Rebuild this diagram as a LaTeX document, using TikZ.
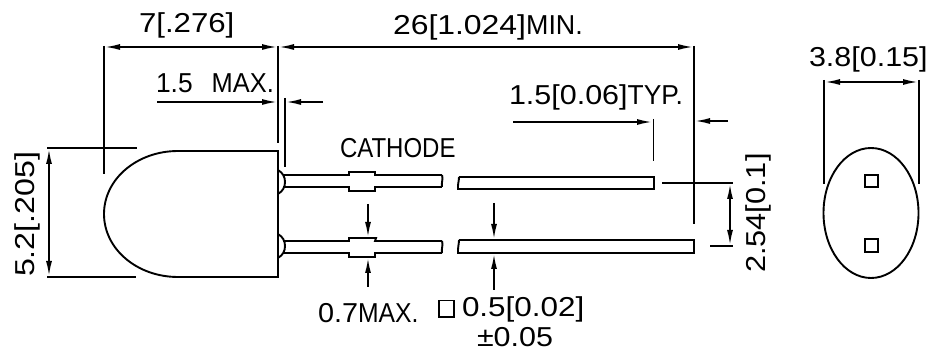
\documentclass[tikz,border=0pt]{standalone}
\usepackage{fontspec}
\setmainfont{Liberation Sans}
\usetikzlibrary{arrows.meta}
\newcommand{\wideto}[2]{\scalebox{#1}[1.14]{#2}}
\tikzset{
  part/.style={line width=1.9pt,line join=miter},
  dimline/.style={line width=1.7pt},
  tip/.style={dimline,-{Latex[length=15pt,width=6pt]}},
  tips/.style={dimline,{Latex[length=15pt,width=6pt]}-{Latex[length=15pt,width=6pt]}},
  lbl/.style={inner sep=0pt,outer sep=0pt,font=\fontsize{24}{24}\selectfont,anchor=base west},
  rlbl/.style={lbl,rotate=90}
}
\begin{document}
\begin{tikzpicture}[x=1pt,y=-1pt]
\useasboundingbox (0,0) rectangle (931,352);
% body
\draw[part] (178,151) -- (278,151) -- (278,277) -- (178,277)
  .. controls (137,277) and (104,249) .. (104,214)
  .. controls (104,179) and (137,151) .. (178,151);
% upper lead
\draw[part] (278,170) .. controls (283,173) and (285,177) .. (285,182) .. controls (285,187) and (283,191) .. (278,194);
\draw[part] (283,175) -- (349,175) -- (349,172) -- (375,172) -- (375,175) -- (442,175)
  (283,187) -- (349,187) -- (349,191) -- (375,191) -- (375,187) -- (442,187);
\draw[part] (442,175) .. controls (443.5,179) and (441,183) .. (442,187);
\draw[part] (459,177) -- (654,177) -- (654,189) -- (458,189) .. controls (457.5,185) and (459,181) .. (459,177);
% lower lead
\draw[part] (278,234) .. controls (283,237) and (285,241) .. (285,246) .. controls (285,251) and (283,255) .. (278,258);
\draw[part] (283,241) -- (349,241) -- (349,238) -- (376,238) -- (375,241) -- (442,241)
  (283,253) -- (349,253) -- (349,257) -- (375,257) -- (375,253) -- (442,253);
\draw[part] (442,241) .. controls (443.5,245) and (441,249) .. (442,253);
\draw[part] (459,240) -- (694,240) -- (694,253) -- (458,253) .. controls (457.5,249) and (459,244) .. (459,240);
% extension lines
\draw[dimline] (104,46) -- (104,174);
\draw[dimline] (278,46) -- (278,143);
\draw[dimline] (285,98) -- (285,167);
\draw[dimline] (47,148) -- (137,148);
\draw[dimline] (47,277) -- (136,277);
\draw[dimline] (694,46) -- (694,224);
\draw[dimline] (653.5,119) -- (653.5,161);
\draw[dimline] (662,183) -- (733,183);
\draw[dimline] (710,246) -- (733,246);
% dimensions
\draw[tips] (105,47) -- (277,47);
\draw[tips] (279,47) -- (693,47);
\draw[tip] (157,102) -- (277,102);
\draw[tip] (323,102) -- (286,102);
\draw[tips] (49,149) -- (49,276);
\draw[tip] (513,122) -- (652,122);
\draw[tip] (728,121) -- (695,121);
\draw[tips] (730,184) -- (730,245);
\draw[tip] (368,204) -- (368,237);
\draw[tip] (368,287) -- (368,258);
\draw[tip] (494,203) -- (494,239);
\draw[tip] (494,290) -- (494,254);
% end view
\draw[part] (871,213) ellipse [x radius=47.5,y radius=65];
\draw[part] (865,175) rectangle (878,187);
\draw[part] (865,239) rectangle (878,252);
\draw[dimline] (824,80) -- (824,184);
\draw[dimline] (919,80) -- (919,184);
\draw[tips] (825,82) -- (918,82);
% tolerance square
\draw[line width=1.5pt] (439,300.5) rectangle (454,317);
% labels
\node[lbl] (a) at (139,33) {\wideto{1.3}{7[.276]}};
\node[lbl] (b) at (393,35) {\wideto{1.33}{26[1.024]}\wideto{1.12}{MIN.}};
\node[lbl] (c) at (156,93) {\wideto{1.1}{1.5}\hspace{19pt}\wideto{1.06}{MAX.}};
\node[lbl] (d) at (509,105) {\wideto{1.27}{1.5[0.06]}\wideto{1.1}{TYP.}};
\node[lbl] (e) at (340,158) {\wideto{1}{CATHODE}};
\node[lbl] (f) at (318,323) {\wideto{1.2}{0.7}\wideto{1.03}{MAX.}};
\node[lbl] (g) at (462,317) {\wideto{1.31}{0.5[0.02]}};
\node[lbl] (h) at (477,346) {\wideto{1.27}{±0.05}};
\node[lbl] (i) at (809,67) {\wideto{1.27}{3.8[0.15]}};
\node[rlbl] (j) at (34,277) {\wideto{1.34}{5.2[.205]}};
\node[rlbl] (k) at (765,273) {\wideto{1.28}{2.54[0.1]}};
\end{tikzpicture}
\end{document}
